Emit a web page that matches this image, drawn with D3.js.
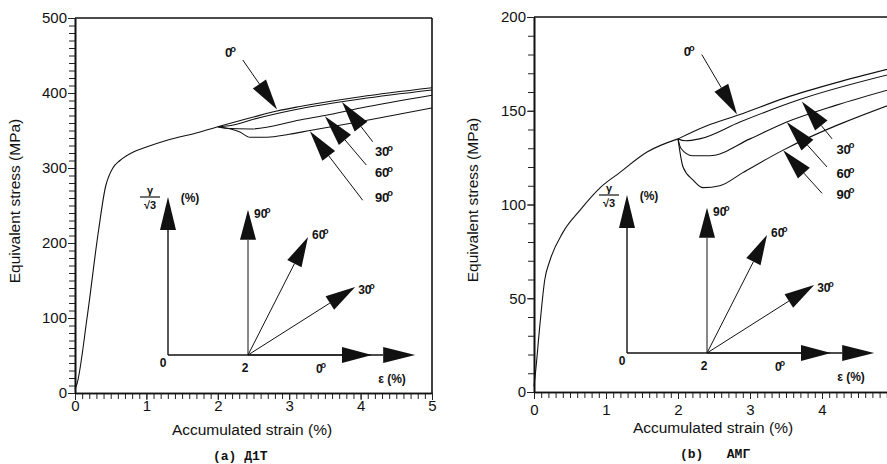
<!DOCTYPE html>
<html>
<head>
<meta charset="utf-8">
<script src="https://cdn.jsdelivr.net/npm/d3@7"></script>
<style>
  body { margin: 0; background: #fff; }
  text { font-family: "Liberation Sans", Arial, sans-serif; fill: #111; }
  .mono { font-family: "Liberation Mono", "Courier New", monospace; font-weight: bold; }
  .deg { font-weight: bold; }
</style>
</head>
<body>
<svg id="chart" width="887" height="464"></svg>
<script>
// (a) Д1T  -- [accumulated strain %, equivalent stress MPa]
const baseA = [[0, 5], [0.03, 13], [0.17, 101], [0.33, 217], [0.43, 276], [0.47, 288], [0.53, 300], [0.63, 310], [0.81, 321], [1.0, 328], [1.29, 337], [1.75, 348], [2.0, 355]];
const curveA0 = [[2.0, 355], [2.5, 368], [2.83, 376], [3.15, 382], [4.0, 395], [5.0, 407]];
const curveA30 = [[2.0, 355], [2.2, 357], [2.5, 365], [3.15, 379], [4.0, 392], [5.0, 404]];
const curveA60 = [[2.0, 355], [2.1, 353], [2.45, 352], [3.15, 364], [3.5, 370], [4.0, 380], [5.0, 397]];
const curveA90 = [[2.0, 355], [2.31, 348], [2.45, 341], [2.69, 341], [3.0, 345], [3.29, 350], [4.0, 362], [5.0, 380]];

// (b) AMГ
const baseB = [[0, 3], [0.02, 10], [0.08, 35], [0.15, 60], [0.22, 70], [0.4, 85], [0.64, 97], [0.92, 109], [1.19, 117], [1.57, 128], [2.0, 135]];
const curveB0 = [[2.0, 135], [2.4, 142], [2.86, 148], [3.5, 157], [4.2, 165], [5.0, 173]];
const curveB30 = [[2.0, 135], [2.1, 134], [2.3, 135], [2.86, 144], [3.69, 156], [5.0, 170]];
const curveB60 = [[2.0, 135], [2.04, 130], [2.2, 126], [2.44, 126], [3.0, 135], [3.51, 144], [4.2, 153], [5.0, 162]];
const curveB90 = [[2.0, 135], [2.07, 120], [2.21, 113], [2.35, 109], [2.58, 110], [2.9, 117], [3.46, 129], [5.0, 154]];

const xTicksA = [0, 1, 2, 3, 4, 5];
const xTicksB = [0, 1, 2, 3, 4];
const yTicksA = [0, 100, 200, 300, 400, 500];
const yTicksB = [0, 50, 100, 150, 200];
const angles = ["0", "30", "60", "90"];

// annotation arrows: tail and tip in data units, label position
const arrowsA = [
  { tail: [2.35, 444], tip: [2.83, 378], label: [2.1, 448] },
  { tail: [4.17, 335], tip: [3.74, 388], label: [4.2, 316] },
  { tail: [4.08, 304], tip: [3.5, 369], label: [4.2, 288] },
  { tail: [4.03, 257], tip: [3.29, 349], label: [4.2, 255] }
];
const arrowsB = [
  { tail: [2.33, 180], tip: [2.82, 148], label: [2.08, 179] },
  { tail: [4.14, 135], tip: [3.72, 155], label: [4.2, 127] },
  { tail: [4.07, 120], tip: [3.51, 144], label: [4.2, 114] },
  { tail: [4.0, 106], tip: [3.46, 129], label: [4.2, 103] }
];

// strain path inset: [eps, gamma/sqrt3] in %
const insetPre = 2;
const insetEnds = [[5.1, 0], [4.68, 1.7], [3.5, 2.95], [2, 3.63]];
const insetAxisEnd = [6.18, 3.95];

const svg = d3.select("#chart");

function degLabel(g, x, y, num, size) {
  const t = g.append("text").attr("class", "deg").attr("x", x).attr("y", y)
    .style("font-size", size + "px");
  t.append("tspan").text(num);
  t.append("tspan").attr("dx", -2).attr("dy", -size * 0.42)
    .style("font-size", (size * 0.72) + "px").text("o");
}

function arrow(g, x1, y1, x2, y2, len, half) {
  const dx = x2 - x1, dy = y2 - y1, d = Math.hypot(dx, dy);
  const ux = dx / d, uy = dy / d;
  const bx = x2 - ux * len, by = y2 - uy * len;
  g.append("line").attr("x1", x1).attr("y1", y1).attr("x2", bx).attr("y2", by)
    .attr("stroke", "#111").attr("stroke-width", 1);
  g.append("path")
    .attr("d", `M${x2},${y2}L${bx - uy * half},${by + ux * half}L${bx + uy * half},${by - ux * half}Z`)
    .attr("fill", "#111");
}

function drawPanel(cfg) {
  const g = svg.append("g");
  const x = d3.scaleLinear().domain([0, 5]).range(cfg.xRange);
  const y = d3.scaleLinear().domain([0, cfg.yMax]).range(cfg.yRange);

  // minor ticks
  g.append("g").attr("transform", `translate(0,${cfg.yRange[0]})`)
    .call(d3.axisBottom(x).tickValues(d3.range(0, 5.01, 0.1)).tickSize(6).tickSizeOuter(0).tickFormat(""));
  g.append("g").attr("transform", `translate(${cfg.xRange[0]},0)`)
    .call(d3.axisLeft(y).tickValues(d3.range(0, cfg.yMax + 1, 10)).tickSize(6).tickSizeOuter(0).tickFormat(""));

  g.append("g").attr("transform", `translate(0,${cfg.yRange[0]})`)
    .call(d3.axisBottom(x).tickValues(cfg.xTicks).tickFormat(d3.format("d"))
      .tickSize(7).tickSizeOuter(0).tickPadding(cfg.xPad));
  g.append("g").attr("transform", `translate(${cfg.xRange[0]},0)`)
    .call(d3.axisLeft(y).tickValues(cfg.yTicks).tickSize(7).tickSizeOuter(0).tickPadding(1));
  g.selectAll(".domain").attr("stroke", "#111").attr("stroke-width", 1.6);
  g.selectAll(".tick line").attr("stroke", "#222").attr("stroke-width", 1);
  g.selectAll(".tick text").style("font-size", "15px").style("font-family", "'Liberation Sans', Arial, sans-serif").attr("fill", "#111");

  // top and right frame
  g.append("line").attr("x1", cfg.xRange[0]).attr("x2", x(5)).attr("y1", cfg.yRange[1]).attr("y2", cfg.yRange[1])
    .attr("stroke", "#111").attr("stroke-width", 1.6);
  g.append("line").attr("x1", x(5)).attr("x2", x(5)).attr("y1", cfg.yRange[1]).attr("y2", cfg.yRange[0])
    .attr("stroke", "#111").attr("stroke-width", 1.6);

  g.append("text").attr("x", cfg.xTitle[0]).attr("y", cfg.xTitle[1]).attr("text-anchor", "middle")
    .style("font-size", "15.5px").text("Accumulated strain (%)");
  g.append("text").attr("transform", `translate(${cfg.yTitle[0]},${cfg.yTitle[1]}) rotate(-90)`)
    .attr("text-anchor", "middle").style("font-size", "15.5px").text("Equivalent stress (MPa)");
  g.append("text").attr("class", "mono").attr("x", cfg.caption[0]).attr("y", cfg.caption[1])
    .style("font-size", "13px").attr("xml:space", "preserve").text(cfg.captionText);

  const line = d3.line().x(d => x(d[0])).y(d => y(d[1])).curve(cfg.curve);
  [cfg.base].concat(cfg.curves).forEach(c => {
    g.append("path").datum(c).attr("d", line)
      .attr("fill", "none").attr("stroke", "#111").attr("stroke-width", 1.1);
  });

  cfg.arrows.forEach((a, i) => {
    arrow(g, x(a.tail[0]), y(a.tail[1]), x(a.tip[0]), y(a.tip[1]), 31, 8);
    degLabel(g, x(a.label[0]), y(a.label[1]), angles[i], 13);
  });

  // inset: strain paths
  const ix = d3.scaleLinear().domain([0, 1]).range([cfg.inset[0], cfg.inset[0] + 40]);
  const iy = d3.scaleLinear().domain([0, 1]).range([cfg.inset[1], cfg.inset[1] - 40]);
  const ig = g.append("g");
  arrow(ig, ix(0), iy(0), ix(0), iy(insetAxisEnd[1]), 33, 8);
  arrow(ig, ix(0), iy(0), ix(insetAxisEnd[0]), iy(0), 32, 8);
  insetEnds.forEach(e => arrow(ig, ix(insetPre), iy(0), ix(e[0]), iy(e[1]), 30, 8));
  ig.selectAll("line").filter((d, i) => i < 2).attr("stroke-width", 1.4);

  const lab = (txt, px, py, size) => ig.append("text").attr("class", "deg").attr("x", px).attr("y", py)
    .attr("text-anchor", "middle").style("font-size", size + "px").text(txt);
  lab("0", ix(0) - 5, iy(0) + 12, 12);
  lab("2", ix(insetPre) - 3, iy(0) + 17, 12);
  degLabel(ig, ix(3.7), iy(0) + 18, "0", 12);
  lab("ε (%)", ix(5.6), iy(0) + 28, 12);
  degLabel(ig, ix(insetEnds[3][0]) + 6, iy(insetEnds[3][1]) + 8, "90", 12);
  degLabel(ig, ix(insetEnds[2][0]) + 4, iy(insetEnds[2][1]) + 2, "60", 12);
  degLabel(ig, ix(insetEnds[1][0]) + 3, iy(insetEnds[1][1]) + 7, "30", 12);

  // gamma / sqrt3 label
  const fx = ix(0) - 18, fy = iy(insetAxisEnd[1]);
  lab("γ", fx, fy - 3, 11);
  ig.append("line").attr("x1", fx - 10).attr("x2", fx + 10).attr("y1", fy).attr("y2", fy)
    .attr("stroke", "#111").attr("stroke-width", 1.2);
  lab("√3", fx, fy + 12, 11);
  lab("(%)", ix(0) + 22, fy + 5, 12);
}

drawPanel({
  xRange: [75, 432], yRange: [393, 18], yMax: 500, yTicks: yTicksA, xTicks: xTicksA,
  base: baseA, curves: [curveA0, curveA30, curveA60, curveA90], curve: d3.curveMonotoneX,
  arrows: arrowsA, inset: [168, 355], xPad: 0,
  xTitle: [252, 435], yTitle: [20, 201], caption: [213, 460], captionText: "(a) Д1T"
});

drawPanel({
  xRange: [534, 894], yRange: [392, 17], yMax: 200, yTicks: yTicksB, xTicks: xTicksB,
  base: baseB, curves: [curveB0, curveB30, curveB60, curveB90], curve: d3.curveMonotoneX,
  arrows: arrowsB, inset: [627, 353], xPad: 5,
  xTitle: [713, 433], yTitle: [478, 200], caption: [680, 458], captionText: "(b)   AMГ"
});
</script>
</body>
</html>
